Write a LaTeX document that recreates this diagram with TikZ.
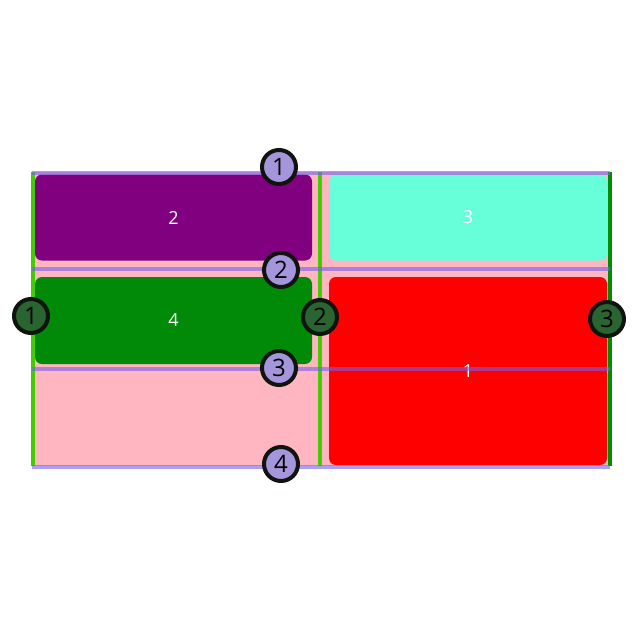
\documentclass[tikz,border=0pt]{standalone}
\usepackage{fontspec}
\setmainfont{Open Sans}
\definecolor{gridpink}{RGB}{255,182,193}
\definecolor{boxpurple}{RGB}{128,0,128}
\definecolor{boxaqua}{RGB}{102,255,218}
\definecolor{boxgreen}{RGB}{0,138,8}
\definecolor{boxred}{RGB}{255,0,0}
\definecolor{vlight}{RGB}{68,204,0}
\definecolor{vdark}{RGB}{0,140,0}
\definecolor{hline}{RGB}{115,95,235}
\definecolor{badgelav}{RGB}{165,150,220}
\definecolor{badgegreen}{RGB}{42,100,48}
\definecolor{badgeedge}{RGB}{15,20,15}
\tikzset{
  itembox/.style={rounded corners=7pt, inner sep=0pt, text=white, font=\fontsize{18}{20}\selectfont},
  hgrid/.style={draw=hline, draw opacity=0.6, line width=4pt},
  vgrid/.style={line width=4pt},
  badge/.style={circle, draw=badgeedge, line width=4pt, minimum size=34pt, inner sep=0pt, text=black, font=\fontsize{24}{26}\selectfont},
  hbadge/.style={badge, fill=badgelav},
  vbadge/.style={badge, fill=badgegreen},
}
\begin{document}
\begin{tikzpicture}[x=1pt,y=-1pt]
\useasboundingbox (0,0) rectangle (640,640);
\fill[white] (0,0) rectangle (640,640);
% grid container
\node[fill=gridpink, minimum width=578pt, minimum height=294pt, inner sep=0pt, anchor=north west] (grid) at (32,172) {};
% items
\node[itembox, fill=boxpurple, minimum width=277pt, minimum height=86pt] (b2) at (173.5,217.5) {2};
\node[itembox, fill=boxaqua, minimum width=278pt, minimum height=86pt] (b3) at (468,217.5) {3};
\node[itembox, fill=boxgreen, minimum width=277pt, minimum height=87pt] (b4) at (173.5,320.5) {4};
\node[itembox, fill=boxred, minimum width=278pt, minimum height=188pt] (b1) at (468,371) {1};
% grid line end points
\coordinate (v1t) at (32.5,172); \coordinate (v1b) at (32.5,466);
\coordinate (v2t) at (319.5,172); \coordinate (v2b) at (319.5,466);
\coordinate (v3t) at (609.5,172); \coordinate (v3b) at (609.5,466);
\coordinate (h1w) at (32,172.5); \coordinate (h1e) at (610,172.5);
\coordinate (h2w) at (32,269); \coordinate (h2e) at (610,269);
\coordinate (h3w) at (32,368.5); \coordinate (h3e) at (610,368.5);
\coordinate (h4w) at (32,466.5); \coordinate (h4e) at (610,466.5);
% vertical lines
\draw[vgrid, draw=vlight] (v1t) -- (v1b);
\draw[vgrid, draw=vlight] (v2t) -- (v2b);
\draw[vgrid, draw=vdark] (v3t) -- (v3b);
% horizontal lines
\draw[hgrid] (h1w) -- (h1e);
\draw[hgrid] (h2w) -- (h2e);
\draw[hgrid] (h3w) -- (h3e);
\draw[hgrid] (h4w) -- (h4e);
% badges
\node[hbadge] (r1) at (279,167) {1};
\node[hbadge] (r2) at (281,270) {2};
\node[hbadge] (r3) at (279,368) {3};
\node[hbadge] (r4) at (281,464) {4};
\node[vbadge] (c1) at (31,316) {1};
\node[vbadge] (c2) at (320,317) {2};
\node[vbadge] (c3) at (607,319) {3};
\end{tikzpicture}
\end{document}
